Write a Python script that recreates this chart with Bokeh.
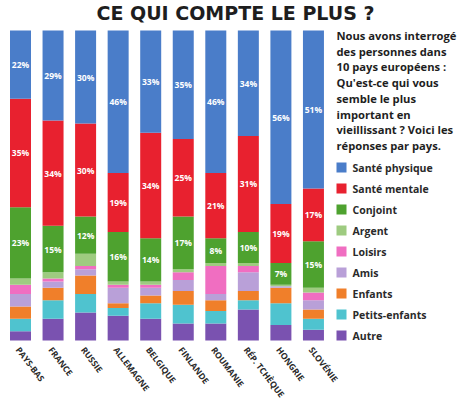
from bokeh.plotting import figure
from bokeh.models import ColumnDataSource, Range1d
from bokeh.core.properties import value
from bokeh.embed import file_html
from bokeh.resources import INLINE

# ---------------- data ----------------
countries = ["PAYS-BAS", "FRANCE", "RUSSIE", "ALLEMAGNE", "BELGIQUE",
             "FINLANDE", "ROUMANIE", "RÉP. TCHÈQUE", "HONGRIE", "SLOVÉNIE"]
autre = [3, 7, 9, 8, 7, 5.5, 5.5, 10, 5, 3.5]
petits_enfants = [4, 6, 6, 2.5, 5, 6, 4, 3, 7, 3.5]
enfants = [4, 4, 6, 1.5, 2.5, 4.5, 3.5, 3, 5, 3]
amis = [4, 2, 2, 5, 2.5, 3.5, 2, 6, 0.5, 3]
loisirs = [3, 1, 1, 1, 1, 2.5, 9, 2, 0, 2.5]
argent = [2, 2, 4, 1, 1, 1, 1, 1, 0.5, 1.5]
conjoint = [23, 15, 12, 16, 14, 17, 8, 10, 7, 15]
sante_mentale = [35, 34, 30, 19, 34, 25, 21, 31, 19, 17]
sante_physique = [22, 29, 30, 46, 33, 35, 46, 34, 56, 51]

series_keys = ["autre", "petits", "enfants", "amis", "loisirs", "argent",
               "conjoint", "mentale", "physique"]
series_names = ["Autre", "Petits-enfants", "Enfants", "Amis", "Loisirs", "Argent",
                "Conjoint", "Santé mentale", "Santé physique"]
series_values = [autre, petits_enfants, enfants, amis, loisirs, argent,
                 conjoint, sante_mentale, sante_physique]
series_colors = ["#7a52b0", "#4fc3cf", "#f07f2a", "#b9a0d8", "#f06ec1", "#9ecb80",
                 "#4ea22f", "#e8212f", "#4a7dc9"]
labelled = {"conjoint", "mentale", "physique"}

title_text = "CE QUI COMPTE LE PLUS ?"
intro_lines = ["Nous avons interrogé", "des personnes dans", "10 pays européens :",
               "Qu'est-ce qui vous", "semble le plus", "important en",
               "vieillissant ? Voici les", "réponses par pays."]

# ---------------- layout ----------------
W, H = 466, 404
PX = 32.55          # px per country
PY = 3.1            # px per percent
X0 = 20             # px from left edge to first bar centre
BASE = 340          # px from top of figure to 0 %
FONT = "Open Sans"


def dx(px_x):
    return (px_x - X0) / PX


def dy(px_y):
    return (BASE - px_y) / PY


p = figure(width=W, height=H, output_backend="svg", toolbar_location=None,
           x_range=Range1d(-X0 / PX, (W - X0) / PX),
           y_range=Range1d(-(H - BASE) / PY, BASE / PY),
           x_axis_location=None, y_axis_location=None,
           min_border=0, outline_line_color=None)
p.xgrid.visible = False
p.ygrid.visible = False
p.background_fill_color = "white"
p.border_fill_color = "white"

xs = list(range(len(countries)))
data = {"x": xs, "country": countries}
for k, v in zip(series_keys, series_values):
    data[k] = v
src = ColumnDataSource(data)

p.vbar_stack(series_keys, x="x", width=21 / PX, source=src, color=series_colors,
             line_color=None)

# percentage labels
lx, ly, lt = [], [], []
for i in xs:
    cum = 0
    for k, v in zip(series_keys, series_values):
        if k in labelled:
            lx.append(i)
            ly.append(cum + v[i] / 2)
            lt.append(f"{v[i]}%")
        cum += v[i]
p.text(x=lx, y=ly, text=lt, text_color="white", text_font=value(FONT),
       text_font_style="bold", text_font_size="8.5px",
       text_align="center", text_baseline="middle")

# country labels (rotated)
p.text(x=xs, y=[dy(344)] * len(xs), text=countries, angle=-0.92,
       x_offset=2, text_color="#2a2a2a", text_font=value(FONT),
       text_font_style="bold", text_font_size="8.6px",
       text_align="left", text_baseline="top")

# title
p.text(x=[dx(235)], y=[dy(12)], text=[title_text], text_color="#1e1e1e",
       text_font=value("DejaVu Sans"), text_font_style="bold", text_font_size="19px",
       text_align="center", text_baseline="middle")

# intro paragraph
p.text(x=[dx(336)] * len(intro_lines),
       y=[dy(35 + 15.7 * i) for i in range(len(intro_lines))],
       text=intro_lines, text_color="#1e1e1e", text_font=value(FONT),
       text_font_style="bold", text_font_size="11.2px",
       text_align="left", text_baseline="middle")

# legend (top = last series)
order = list(range(len(series_names)))[::-1]
leg_y = [dy(167 + 21 * j) for j in range(len(order))]
p.rect(x=[dx(341)] * len(order), y=leg_y, width=10, height=10,
       width_units="screen", height_units="screen",
       color=[series_colors[i] for i in order], line_color=None)
p.text(x=[dx(352)] * len(order), y=leg_y, text=[series_names[i] for i in order],
       text_color="#2a2a2a", text_font=value(FONT), text_font_style="bold",
       text_font_size="10.5px", text_align="left", text_baseline="middle")

open("out.html", "w").write(file_html(p, INLINE))
